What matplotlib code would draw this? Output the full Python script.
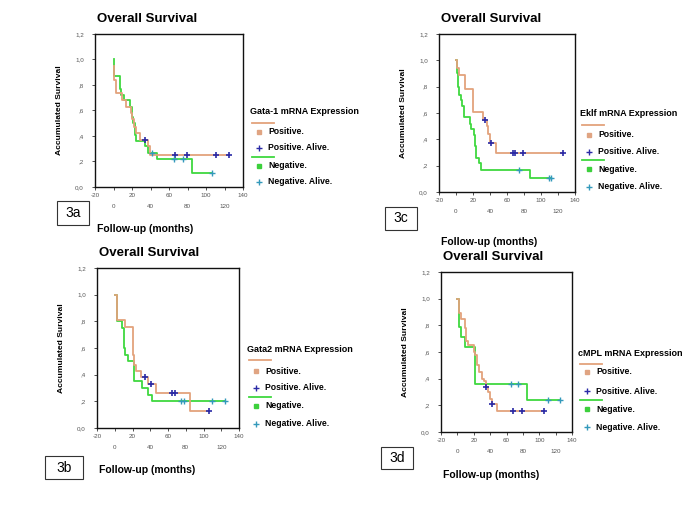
import numpy as np
import matplotlib.pyplot as plt
from matplotlib.lines import Line2D
from matplotlib.patches import Rectangle

plt.rcParams['font.family'] = ['Liberation Sans', 'DejaVu Sans']

W, H = 685, 513

# ---- data (months, accumulated survival), step curves + censored points ----
# 3a Gata-1
a_pos_t = [0, 1, 3, 9, 13, 19, 20, 22, 24, 29, 37, 39, 125]
a_pos_s = [0.95, 0.84, 0.74, 0.68, 0.63, 0.58, 0.53, 0.47, 0.42, 0.37, 0.32, 0.25, 0.25]
a_pos_ct = [34, 67, 79, 111, 125]
a_pos_cs = [0.37, 0.25, 0.25, 0.25, 0.25]
a_neg_t = [0, 1, 7, 8, 11, 18, 20, 21, 23, 24, 34, 37, 47, 85, 107]
a_neg_s = [1.0, 0.87, 0.77, 0.72, 0.68, 0.63, 0.55, 0.50, 0.41, 0.36, 0.32, 0.27, 0.22, 0.11, 0.11]
a_neg_ct = [42, 65, 75, 107]
a_neg_cs = [0.27, 0.22, 0.22, 0.11]

# 3b Gata2
b_pos_t = [0, 2, 11, 21, 22, 24, 30, 37, 46, 85, 106]
b_pos_s = [1.0, 0.81, 0.76, 0.55, 0.47, 0.43, 0.38, 0.33, 0.26, 0.13, 0.13]
b_pos_ct = [34, 41, 65, 68, 106]
b_pos_cs = [0.38, 0.33, 0.26, 0.26, 0.13]
b_neg_t = [0, 2, 3, 8, 10, 12, 15, 22, 31, 37, 42, 124]
b_neg_s = [1.0, 0.85, 0.80, 0.75, 0.60, 0.55, 0.50, 0.35, 0.30, 0.25, 0.20, 0.20]
b_neg_ct = [75, 78, 110, 124]
b_neg_cs = [0.20, 0.20, 0.20, 0.20]

# 3c Eklf
c_pos_t = [0, 1, 3, 11, 20, 32, 37, 38, 40, 47, 126]
c_pos_s = [1.0, 0.94, 0.89, 0.78, 0.61, 0.55, 0.50, 0.44, 0.37, 0.30, 0.30]
c_pos_ct = [34, 41, 67, 69, 79, 126]
c_pos_cs = [0.55, 0.37, 0.30, 0.30, 0.30, 0.30]
c_neg_t = [0, 1, 2, 3, 6, 7, 9, 16, 18, 21, 22, 24, 27, 30, 87, 112]
c_neg_s = [1.0, 0.90, 0.80, 0.74, 0.70, 0.65, 0.57, 0.52, 0.48, 0.43, 0.35, 0.26, 0.22, 0.17, 0.11, 0.11]
c_neg_ct = [74, 109, 112]
c_neg_cs = [0.17, 0.11, 0.11]

# 3d cMPL
d_pos_t = [0, 2, 5, 9, 10, 11, 13, 20, 21, 24, 26, 30, 32, 35, 38, 40, 42, 48, 106]
d_pos_s = [1.0, 0.89, 0.85, 0.78, 0.72, 0.68, 0.65, 0.60, 0.58, 0.50, 0.45, 0.40, 0.38, 0.34, 0.30, 0.25, 0.21, 0.16, 0.16]
d_pos_ct = [35, 42, 68, 79, 106]
d_pos_cs = [0.34, 0.21, 0.16, 0.16, 0.16]
d_neg_t = [0, 2, 5, 9, 21, 85, 125]
d_neg_s = [1.0, 0.79, 0.71, 0.64, 0.36, 0.24, 0.24]
d_neg_ct = [66, 74, 111, 125]
d_neg_cs = [0.36, 0.36, 0.24, 0.24]

y_ticks = [0.0, 0.2, 0.4, 0.6, 0.8, 1.0, 1.2]
y_labels = ['0,0', ',2', ',4', ',6', ',8', '1,0', '1,2']
x_ticks_row1 = [-20, 20, 60, 100, 140]
x_ticks_row2 = [0, 40, 80, 120]

col_pos = '#e3a27c'
col_neg = '#3fd83f'
col_pos_c = '#2a2aa6'
col_neg_c = '#3399bb'
tick_col = '#555555'

fig = plt.figure(figsize=(W / 100, H / 100), dpi=100)


def fx(px):
    return px / W


def fy(py):
    return 1 - py / H


def panel(box, curves, tag, tag_box, xlab_y, legend_title, leg_x, leg_rows):
    x0, y0, x1, y1 = box
    ax = fig.add_axes([fx(x0), fy(y1), fx(x1 - x0), (y1 - y0) / H])
    pt, ps, pct, pcs, nt, ns, nct, ncs = curves
    ax.step(nt, ns, where='post', color=col_neg, lw=1.3)
    ax.step(pt, ps, where='post', color=col_pos, lw=1.3)
    ax.plot(pct, pcs, '+', color=col_pos_c, ms=5, mew=1.2)
    ax.plot(nct, ncs, '+', color=col_neg_c, ms=5, mew=1.0)
    ax.set_xlim(-20, 140)
    ax.set_ylim(0, 1.2)
    ax.set_yticks(y_ticks)
    ax.set_yticklabels(y_labels)
    ax.set_xticks(x_ticks_row1)
    ax.set_xticklabels([str(v) for v in x_ticks_row1])
    ax.set_xticks(x_ticks_row2, minor=True)
    ax.set_xticklabels([str(v) for v in x_ticks_row2], minor=True)
    ax.tick_params(axis='both', which='both', labelsize=4.5, labelcolor=tick_col,
                   length=2, width=0.6, color='#333333')
    ax.tick_params(axis='x', which='major', pad=2)
    ax.tick_params(axis='x', which='minor', pad=10)
    ax.tick_params(axis='y', pad=6)
    for s in ax.spines.values():
        s.set_linewidth(1.0)
        s.set_color('#111111')
    ax.set_ylabel('Accumulated Survival', fontsize=6.1, fontweight='bold', labelpad=9)

    # title and axis caption
    fig.text(fx(x0 + 2), fy(y0 - 15), 'Overall Survival', fontsize=9.5,
             fontweight='bold', va='center', ha='left')
    fig.text(fx(x0 + 2), fy(xlab_y), 'Follow-up (months)', fontsize=7.5,
             fontweight='bold', va='center', ha='left')

    # panel tag
    bx0, by0, bx1, by1 = tag_box
    fig.patches.append(Rectangle((fx(bx0), fy(by1)), fx(bx1 - bx0), (by1 - by0) / H,
                                 transform=fig.transFigure, fill=False,
                                 edgecolor='#333333', lw=0.8))
    fig.text(fx((bx0 + bx1) / 2), fy((by0 + by1) / 2), tag, fontsize=10,
             ha='center', va='center')

    # legend
    t_y, lp_y, p_y, pa_y, ln_y, n_y, na_y = leg_rows
    fig.text(fx(leg_x), fy(t_y), legend_title, fontsize=6.5, fontweight='bold',
             va='center', ha='left')
    for ly, c in [(lp_y, col_pos), (ln_y, col_neg)]:
        fig.add_artist(Line2D([fx(leg_x + 2), fx(leg_x + 24)], [fy(ly), fy(ly)],
                              color=c, lw=1.3, transform=fig.transFigure))
    entries = [(p_y, 's', '#e0a482', 2.5, 'Positive.'),
               (pa_y, '+', col_pos_c, 4.5, 'Positive. Alive.'),
               (n_y, 's', '#3cd03c', 2.5, 'Negative.'),
               (na_y, '+', col_neg_c, 4.5, 'Negative. Alive.')]
    for ey, mk, c, ms, lab in entries:
        fig.add_artist(Line2D([fx(leg_x + 9)], [fy(ey)], marker=mk, color=c,
                              ms=ms, mew=1.0, ls='none', transform=fig.transFigure))
        fig.text(fx(leg_x + 18), fy(ey), lab, fontsize=6.2, fontweight='bold',
                 va='center', ha='left')


panel((95, 34, 243, 187),
      (a_pos_t, a_pos_s, a_pos_ct, a_pos_cs, a_neg_t, a_neg_s, a_neg_ct, a_neg_cs),
      '3a', (57, 201, 89, 225), 229, 'Gata-1 mRNA Expression', 250,
      (112, 123, 132, 148, 157, 166, 182))
panel((439, 34, 575, 192),
      (c_pos_t, c_pos_s, c_pos_ct, c_pos_cs, c_neg_t, c_neg_s, c_neg_ct, c_neg_cs),
      '3c', (385, 207, 417, 230), 242, 'Eklf mRNA Expression', 580,
      (114, 125, 135, 152, 160, 169, 187))
panel((97, 268, 239, 428),
      (b_pos_t, b_pos_s, b_pos_ct, b_pos_cs, b_neg_t, b_neg_s, b_neg_ct, b_neg_cs),
      '3b', (45, 456, 83, 479), 470, 'Gata2 mRNA Expression', 247,
      (349, 360, 371, 388, 397, 406, 424))
panel((441, 272, 572, 432),
      (d_pos_t, d_pos_s, d_pos_ct, d_pos_cs, d_neg_t, d_neg_s, d_neg_ct, d_neg_cs),
      '3d', (381, 447, 413, 469), 475, 'cMPL mRNA Expression', 578,
      (353, 364, 372, 391, 400, 409, 427))

fig.savefig('out.png', dpi=100)
